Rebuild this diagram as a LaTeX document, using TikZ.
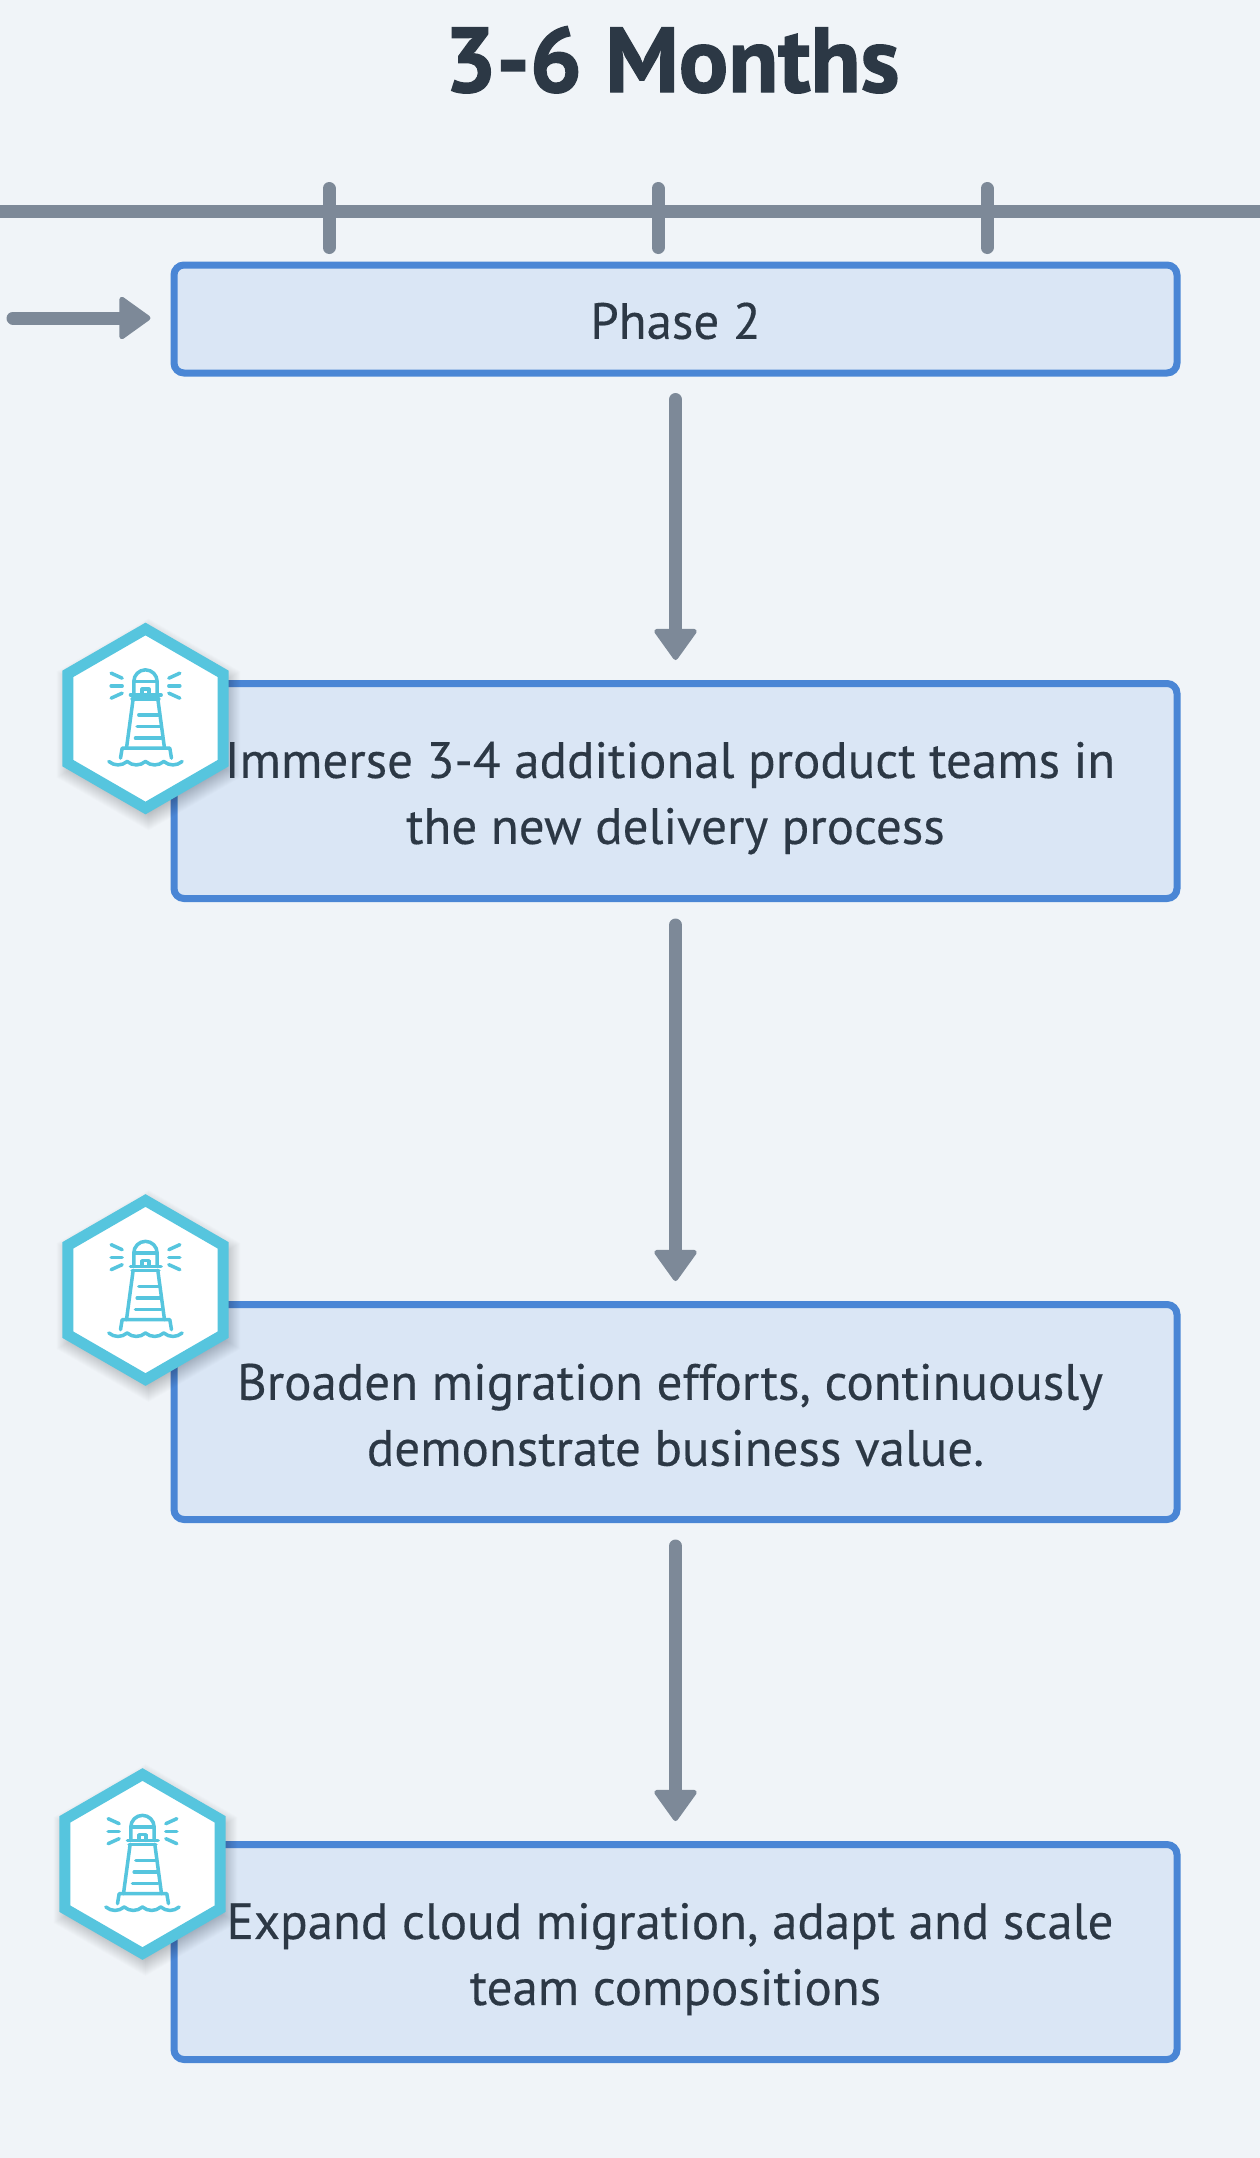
\documentclass[tikz,border=0pt]{standalone}
\usepackage{fontspec}
\setmainfont{PT Sans}[FakeBold=0.3, BoldFeatures={FakeBold=1.5}]
\usetikzlibrary{arrows.meta,shapes.geometric}

\definecolor{bgpage}{HTML}{F0F4F8}
\definecolor{boxfill}{HTML}{DAE6F5}
\definecolor{boxline}{HTML}{4A86D5}
\definecolor{axisgray}{HTML}{7D8998}
\definecolor{hexcyan}{HTML}{56C5DE}
\definecolor{textdark}{HTML}{2C3845}

\tikzset{
    beacon/.pic = {
        \foreach \s in {1,...,18}{
            \fill [black, opacity=0.012, shift={(3,6)}]
                (90:88+\s) -- (30:88+\s) -- (-30:88+\s) -- (-90:88+\s) -- (-150:88+\s) -- (150:88+\s) -- cycle;
        }
        \node [hexagon] (#1) at (0,0){};
        \begin{scope}[hexcyan, line width=3.5pt, line cap=round, line join=round, x=0.3333pt, y=-0.3333pt, shift={(-105pt,118.67pt)}]
            \draw (280,285) -- (280,245) arc [start angle=180, end angle=360, radius=35] -- (350,285);
            \draw (280,245) -- (350,245);
            \draw (305,285) -- (305,268) -- (325,268) -- (325,285);
            \draw (270,285) -- (362,285);
            \draw (275,297) -- (355,297);
            \draw (278,297) -- (258,445);
            \draw (352,297) -- (372,445);
            \draw (295,345) -- (355,345);
            \draw (290,380) -- (360,380);
            \draw (285,415) -- (362,415);
            \draw (240,475) -- (245,445) -- (388,445) -- (393,475);
            \draw (205,485) to [bend right=40] (260,485) to [bend right=40] (315,485) to [bend right=40] (370,485) to [bend right=40] (425,485);
            \draw (212,220) -- (245,235);
            \draw (212,258) -- (245,258);
            \draw (212,295) -- (245,280);
            \draw (418,220) -- (385,235);
            \draw (418,258) -- (385,258);
            \draw (418,295) -- (385,280);
        \end{scope}
    },
}

\begin{document}
\begin{tikzpicture}[
    x = 1pt,
    y = -1pt,
    stepbox/.style = {rectangle, draw=boxline, fill=boxfill, line width=7pt,
              rounded corners=10pt, minimum width=1003pt, inner sep=0pt,
              outer sep=3.5pt},
    steptext/.style = {align=center, text=textdark, inner sep=0pt,
              font=\fontsize{51}{66}\selectfont},
    hexagon/.style = {regular polygon, regular polygon sides=6, shape border rotate=30,
              draw=hexcyan, fill=white, line width=11pt, minimum size=179pt, inner sep=0pt},
    axis/.style = {draw=axisgray, line width=13pt},
    tick/.style = {axis, line cap=round},
    flow/.style = {axis, line cap=round, -{Triangle[length=33pt, width=46pt, line width=5pt, round]}, shorten >=20pt, shorten <=23pt},
    ]

\useasboundingbox (0,0) rectangle (1260,2158);
\fill [bgpage] (0,0) rectangle (1260,2158);

\node [font=\bfseries\fontsize{92}{92}\selectfont, text=textdark, anchor=base] (title) at (672,92){3-6 Months};

\coordinate (axis_l) at (0,211);
\coordinate (axis_r) at (1260,211);
\draw [axis] (axis_l) -- (axis_r);
\foreach \x [count=\i] in {329,658,987}{
    \coordinate (tick_\i_t) at (\x,188.5);
    \coordinate (tick_\i_b) at (\x,247.5);
    \draw [tick] (tick_\i_t) -- (tick_\i_b);
}

\node [stepbox, minimum height=108pt] (phase) at (675.5,319){};
\node [stepbox, minimum height=215pt] (step_1) at (675.5,791){};
\node [stepbox, minimum height=215pt] (step_2) at (675.5,1412){};
\node [stepbox, minimum height=215pt] (step_3) at (675.5,1952){};

\coordinate (entry) at (13,318);
\draw [flow, shorten <=0pt] (entry) -- (phase.west |- entry);
\draw [flow] (phase) -- (step_1);
\draw [flow] (step_1) -- (step_2);
\draw [flow] (step_2) -- (step_3);

\pic at (145.5,718.5) {beacon=hex_1};
\pic at (145.5,1290) {beacon=hex_2};
\pic at (142.5,1864) {beacon=hex_3};

\node [steptext] (phase_text) at ([yshift=-2pt]phase.center){Phase 2};
\node [steptext] (step_1_text) at ([yshift=-7pt]step_1.center){Immerse 3-4 additional product teams in\kern 11pt\\the new delivery process};
\node [steptext] (step_2_text) at ([yshift=-3pt]step_2.center){Broaden migration efforts, continuously\kern 11pt\\demonstrate business value.};
\node [steptext] (step_3_text) at ([yshift=-7pt]step_3.center){Expand cloud migration, adapt and scale\kern 11pt\\team compositions};

\end{tikzpicture}
\end{document}
